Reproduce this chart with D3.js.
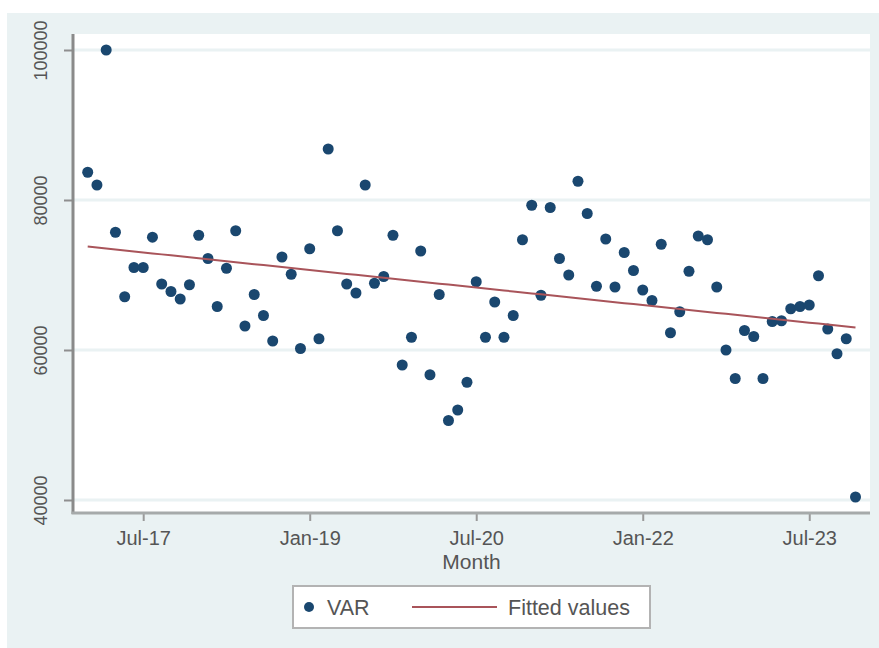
<!DOCTYPE html>
<html>
<head>
<meta charset="utf-8">
<script src="https://cdn.jsdelivr.net/npm/d3@7"></script>
<style>
  html, body { margin: 0; padding: 0; background: #ffffff; }
  svg { display: block; }
  text { font-family: "Liberation Sans", Arial, Helvetica, sans-serif; fill: #555555; }
</style>
</head>
<body>
<svg id="chart" width="879" height="648"></svg>
<script>
// Monthly observations, Jan-17 through Dec-23
const startYear = 2017;
const values = [
  83700, 82000, 100000, 75700, 67100, 71000, 71000, 75050, 68800, 67800, 66800, 68700,
  75300, 72200, 65800, 70900, 75900, 63200, 67400, 64600, 61200, 72400, 70100, 60200,
  73500, 61500, 86800, 75900, 68800, 67600, 82000, 68900, 69800, 75300, 58000, 61700,
  73200, 56700, 67400, 50600, 52000, 55700, 69100, 61700, 66400, 61700, 64600, 74700,
  79300, 67300, 79000, 72200, 70000, 82500, 78200, 68500, 74800, 68400, 73000, 70600,
  68000, 66600, 74100, 62300, 65100, 70500, 75200, 74700, 68400, 60000, 56200, 62600,
  61800, 56200, 63800, 63900, 65500, 65800, 66000, 69900, 62800, 59500, 61500, 40400
];
const months = values.map((_, i) => i);   // month index since Jan-17

// Axis ticks
const xTickMonths = [6, 24, 42, 60, 78];
const xTickLabels = ["Jul-17", "Jan-19", "Jul-20", "Jan-22", "Jul-23"];
const yTickValues = [40000, 60000, 80000, 100000];

// Legend entries
const seriesName = "VAR";
const fitName = "Fitted values";
const xTitle = "Month";

// Colours
const bgColor = "#eaf2f3";
const gridColor = "#eaf2f3";
const markerColor = "#1a476f";
const fitColor = "#a9545a";

const svg = d3.select("#chart");

// Graph region
svg.append("rect")
  .attr("x", 7).attr("y", 13)
  .attr("width", 879 - 7).attr("height", 648 - 13)
  .attr("fill", bgColor);

// Plot region
const plot = { left: 73, right: 870, top: 34, bottom: 513 };
svg.append("rect")
  .attr("x", plot.left).attr("y", plot.top)
  .attr("width", plot.right - plot.left).attr("height", plot.bottom - plot.top)
  .attr("fill", "#ffffff");

const x = d3.scaleLinear().domain([0, 83]).range([87.7, 855.5]);
const y = d3.scaleLinear().domain([40000, 100000]).range([500, 50]);

// Horizontal grid
svg.append("g")
  .selectAll("line")
  .data(yTickValues)
  .join("line")
  .attr("x1", plot.left).attr("x2", plot.right)
  .attr("y1", d => y(d)).attr("y2", d => y(d))
  .attr("stroke", gridColor).attr("stroke-width", 3);

// Least-squares fit
const mx = d3.mean(months), my = d3.mean(values);
let sxy = 0, sxx = 0;
months.forEach((m, i) => { sxy += (m - mx) * (values[i] - my); sxx += (m - mx) * (m - mx); });
const slope = sxy / sxx;
const intercept = my - slope * mx;
const fitted = months.map(m => intercept + slope * m);

// Y axis
const yAxis = d3.axisLeft(y).tickValues(yTickValues).tickSize(9).tickPadding(0).tickFormat(d3.format("d"));
const gy = svg.append("g").attr("transform", `translate(${plot.left},0)`).call(yAxis);
gy.select(".domain").remove();
gy.selectAll(".tick line").attr("stroke", "#8f8f8f").attr("stroke-width", 2);
gy.selectAll(".tick text")
  .attr("transform", "rotate(-90)")
  .attr("x", 0).attr("y", -26)
  .attr("dy", 0)
  .attr("text-anchor", "middle")
  .style("font-size", "18px")
  .style("font-family", "'Liberation Sans', Arial, sans-serif")
  .attr("fill", "#555555");
svg.append("line")
  .attr("x1", plot.left).attr("x2", plot.left)
  .attr("y1", plot.top).attr("y2", plot.bottom + 1)
  .attr("stroke", "#8a8a8a").attr("stroke-width", 3);

// X axis
const xAxis = d3.axisBottom(x).tickValues(xTickMonths).tickSize(8).tickPadding(10)
  .tickFormat((d, i) => xTickLabels[i]);
const gx = svg.append("g").attr("transform", `translate(0,${plot.bottom})`).call(xAxis);
gx.select(".domain").remove();
gx.selectAll(".tick line").attr("stroke", "#9a9a9a").attr("stroke-width", 2);
gx.selectAll(".tick text")
  .style("font-size", "20px")
  .style("font-family", "'Liberation Sans', Arial, sans-serif")
  .attr("fill", "#555555");
svg.append("line")
  .attr("x1", plot.left - 1.5).attr("x2", plot.right)
  .attr("y1", plot.bottom).attr("y2", plot.bottom)
  .attr("stroke", "#a6aaaa").attr("stroke-width", 3);

svg.append("text")
  .attr("x", (plot.left + plot.right) / 2).attr("y", 569)
  .attr("text-anchor", "middle")
  .style("font-size", "21px")
  .text(xTitle);

// Scatter
svg.append("g")
  .selectAll("circle")
  .data(values)
  .join("circle")
  .attr("cx", (d, i) => x(months[i]))
  .attr("cy", d => y(d))
  .attr("r", 5.5)
  .attr("fill", markerColor);

// Fitted line
svg.append("path")
  .datum(fitted)
  .attr("d", d3.line().x((d, i) => x(months[i])).y(d => y(d)))
  .attr("fill", "none")
  .attr("stroke", fitColor)
  .attr("stroke-width", 2);

// Legend
const lg = svg.append("g");
lg.append("rect")
  .attr("x", 293).attr("y", 586).attr("width", 357).attr("height", 42)
  .attr("fill", "#ffffff").attr("stroke", "#b3b3b3").attr("stroke-width", 2);
lg.append("circle").attr("cx", 309).attr("cy", 607).attr("r", 5).attr("fill", markerColor);
lg.append("text").attr("x", 327).attr("y", 607).attr("dy", "0.35em")
  .style("font-size", "21.5px").text(seriesName);
lg.append("line").attr("x1", 412).attr("x2", 497).attr("y1", 607).attr("y2", 607)
  .attr("stroke", fitColor).attr("stroke-width", 2);
lg.append("text").attr("x", 508).attr("y", 607).attr("dy", "0.35em")
  .style("font-size", "21.5px").text(fitName);
</script>
</body>
</html>
